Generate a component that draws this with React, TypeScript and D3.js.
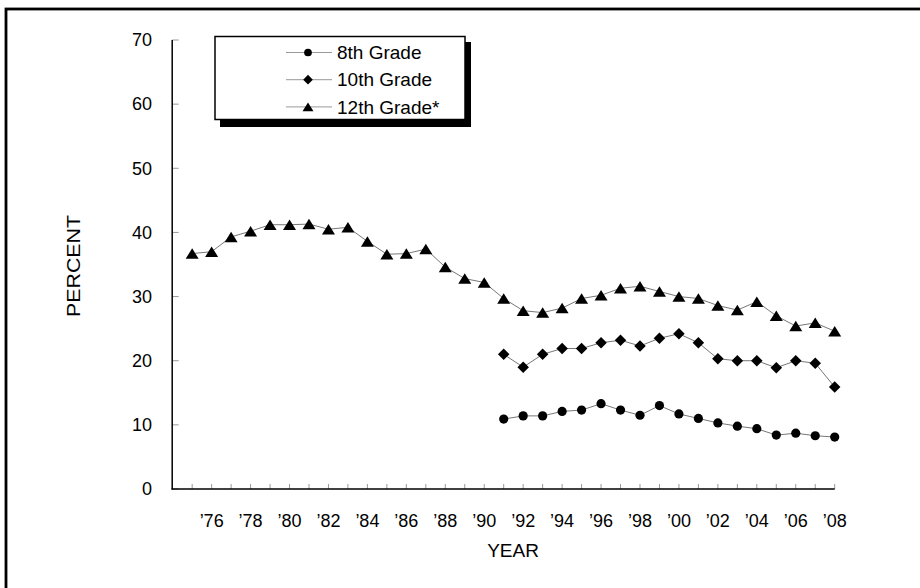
import * as d3 from 'd3';

// years shown for each series
const years12 = [
  1975, 1976, 1977, 1978, 1979, 1980, 1981, 1982, 1983, 1984, 1985, 1986,
  1987, 1988, 1989, 1990, 1991, 1992, 1993, 1994, 1995, 1996, 1997, 1998,
  1999, 2000, 2001, 2002, 2003, 2004, 2005, 2006, 2007, 2008,
];
const years8and10 = [
  1991, 1992, 1993, 1994, 1995, 1996, 1997, 1998, 1999, 2000, 2001, 2002,
  2003, 2004, 2005, 2006, 2007, 2008,
];

const grade12 = [
  36.7, 37.0, 39.3, 40.2, 41.2, 41.2, 41.3, 40.5, 40.8, 38.6, 36.6, 36.7,
  37.4, 34.6, 32.8, 32.2, 29.7, 27.8, 27.5, 28.2, 29.7, 30.2, 31.3, 31.6,
  30.8, 30.0, 29.7, 28.6, 27.9, 29.2, 27.0, 25.4, 25.9, 24.6,
];
const grade10 = [
  21.0, 19.0, 21.0, 21.9, 21.9, 22.8, 23.2, 22.3, 23.5, 24.2, 22.8, 20.3,
  20.0, 20.0, 18.9, 20.0, 19.6, 15.9,
];
const grade8 = [
  10.9, 11.4, 11.4, 12.1, 12.3, 13.3, 12.3, 11.5, 13.0, 11.7, 11.0, 10.3,
  9.8, 9.4, 8.4, 8.7, 8.3, 8.1,
];

const yTicks = [0, 10, 20, 30, 40, 50, 60, 70];
const xLabelYears = [
  1976, 1978, 1980, 1982, 1984, 1986, 1988, 1990, 1992, 1994, 1996, 1998,
  2000, 2002, 2004, 2006, 2008,
];
const legendLabels = ['8th Grade', '10th Grade', '12th Grade*'];

const W = 920;
const H = 588;
const FONT = "'Liberation Sans', Arial, sans-serif";

type Shape = 'circle' | 'diamond' | 'triangle';

function marker(shape: Shape, cx: number, cy: number, s: number) {
  if (shape === 'circle') return <circle cx={cx} cy={cy} r={s * 0.92} fill="#000" />;
  if (shape === 'diamond') {
    const d = s * 1.15;
    return (
      <path
        d={`M${cx},${cy - d}L${cx + d},${cy}L${cx},${cy + d}L${cx - d},${cy}Z`}
        fill="#000"
      />
    );
  }
  const hw = s * 1.3;
  const hh = s * 1.05;
  return (
    <path
      d={`M${cx},${cy - hh}L${cx + hw},${cy + hh}L${cx - hw},${cy + hh}Z`}
      fill="#000"
    />
  );
}

export default function App() {
  const x = d3.scaleLinear().domain([1974, 2008]).range([172.7, 834.7]);
  const y = d3.scaleLinear().domain([0, 70]).range([489, 40]);

  const line = d3
    .line<[number, number]>()
    .x((d) => x(d[0]))
    .y((d) => y(d[1]));

  const series: { shape: Shape; pts: [number, number][] }[] = [
    { shape: 'circle', pts: years8and10.map((yr, i) => [yr, grade8[i]]) },
    { shape: 'diamond', pts: years8and10.map((yr, i) => [yr, grade10[i]]) },
    { shape: 'triangle', pts: years12.map((yr, i) => [yr, grade12[i]]) },
  ];

  const x0 = x.range()[0];
  const x1 = x.range()[1];

  return (
    <svg
      width={W}
      height={H}
      style={{ position: 'absolute', left: 0, top: 0, background: '#fff' }}
      fontFamily={FONT}
    >
      {/* outer frame, cut off at the right and bottom */}
      <rect x={6} y={9} width={W + 20} height={H + 20} fill="none" stroke="#000" strokeWidth={2.8} />

      {/* y axis */}
      {yTicks.map((t) => (
        <g key={t}>
          <line x1={x0 - 0.5} x2={x0 + 6} y1={y(t)} y2={y(t)} stroke="#999" strokeWidth={1} />
          <text x={152} y={y(t)} dy="0.35em" textAnchor="end" fontSize={18}>
            {t}
          </text>
        </g>
      ))}
      <line x1={x0 - 0.5} x2={x0 - 0.5} y1={y(70)} y2={y(0) + 0.5} stroke="#000" strokeWidth={1.5} />

      {/* x axis */}
      {years12.map((yr) => (
        <line key={yr} x1={x(yr)} x2={x(yr)} y1={y(0)} y2={y(0) - 5} stroke="#999" strokeWidth={1} />
      ))}
      <line x1={x0 - 1.2} x2={x1} y1={y(0)} y2={y(0)} stroke="#000" strokeWidth={1.5} />
      {xLabelYears.map((yr) => (
        <text key={yr} x={x(yr)} y={521} dy="0.35em" textAnchor="middle" fontSize={18}>
          {'\u2019' + String(yr).slice(2)}
        </text>
      ))}

      <text x={513} y={550} dy="0.35em" textAnchor="middle" fontSize={19}>
        YEAR
      </text>
      <text
        transform="translate(73,266) rotate(-90)"
        textAnchor="middle"
        dy="0.35em"
        fontSize={19}
        textLength={102}
        lengthAdjust="spacingAndGlyphs"
      >
        PERCENT
      </text>

      {/* series */}
      {series.map((s) => (
        <g key={s.shape}>
          <path d={line(s.pts) ?? ''} fill="none" stroke="#777" strokeWidth={1} />
          {s.pts.map((p) => (
            <g key={p[0]}>{marker(s.shape, x(p[0]), y(p[1]), 5)}</g>
          ))}
        </g>
      ))}

      {/* legend */}
      <rect x={220} y={42} width={251} height={85} fill="#000" />
      <rect x={215} y={36.5} width={250} height={83} fill="#fff" stroke="#000" strokeWidth={1.5} />
      {legendLabels.map((lab, i) => {
        const ly = 52.5 + i * 27.2;
        const shape = series[i].shape;
        return (
          <g key={lab}>
            <line x1={286} x2={332} y1={ly} y2={ly} stroke="#999" strokeWidth={1} />
            {marker(shape, 308, ly, 4.2)}
            <text x={337} y={ly} dy="0.35em" fontSize={19}>
              {lab}
            </text>
          </g>
        );
      })}
    </svg>
  );
}
